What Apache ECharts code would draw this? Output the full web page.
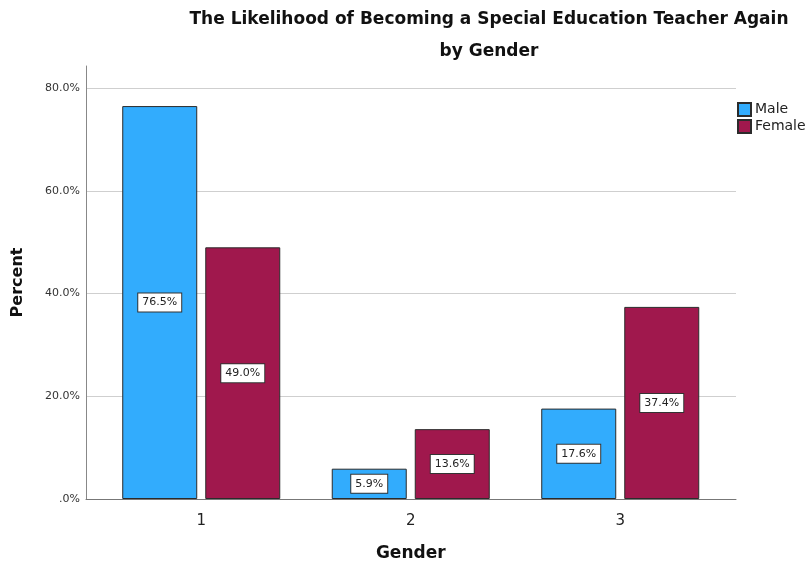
<!DOCTYPE html>
<html>
<head>
<meta charset="utf-8">
<script src="https://cdn.jsdelivr.net/npm/echarts@6/dist/echarts.min.js"></script>
<style>
  html, body { margin: 0; padding: 0; background: #fff; }
  #chart { width: 809px; height: 568px; }
</style>
</head>
<body>
<div id="chart"></div>
<script>
// Response categories and percentage of each gender choosing them
const categories = ['1', '2', '3'];
const maleValues = [76.5, 5.9, 17.6];
const femaleValues = [49.0, 13.6, 37.4];
const yTicks = [0, 20, 40, 60, 80];

const FONT = 'DejaVu Sans';
const Y_MAX = 84.3;

function pctLabel(v) {
  return v === 0 ? '.0%' : v.toFixed(1) + '%';
}

const barLabel = {
  show: true,
  position: 'inside',
  formatter: p => p.value.toFixed(1) + '%',
  color: '#222',
  fontFamily: FONT,
  fontSize: 11,
  backgroundColor: '#fff',
  borderColor: '#333',
  borderWidth: 1,
  padding: [4, 4, 3, 4]
};

const chart = echarts.init(document.getElementById('chart'), null, { renderer: 'canvas' });

chart.setOption({
  animation: false,
  backgroundColor: '#fff',
  title: {
    text: 'The Likelihood of Becoming a Special Education Teacher Again\nby Gender',
    left: 484,
    textAlign: 'center',
    top: -1,
    textStyle: {
      fontFamily: FONT,
      fontWeight: 'bold',
      fontSize: 17,
      lineHeight: 32,
      color: '#111'
    }
  },
  legend: {
    orient: 'vertical',
    left: 732,
    top: 97,
    itemWidth: 13,
    itemHeight: 13,
    itemGap: 2,
    icon: 'rect',
    textStyle: { fontFamily: FONT, fontSize: 14, color: '#222', padding: [0, 0, 0, -1] },
    data: ['Male', 'Female']
  },
  grid: [
    // frame holding the value axis, grid lines and baseline
    { left: 86, right: 73, top: 66, bottom: 69 },
    // band area holding the bar groups
    { left: 96.5, width: 628.5, top: 66, bottom: 69 }
  ],
  xAxis: [
    {
      gridIndex: 0,
      type: 'value',
      min: 0,
      max: 1,
      axisLine: { show: true, onZero: false, lineStyle: { color: '#777', width: 1 } },
      axisTick: { show: false },
      axisLabel: { show: false },
      splitLine: { show: false }
    },
    {
      gridIndex: 1,
      type: 'category',
      data: categories,
      axisLine: { show: false },
      axisTick: { show: false },
      axisLabel: { fontFamily: FONT, fontSize: 15, color: '#222', margin: 15 },
      name: 'Gender',
      nameLocation: 'middle',
      nameGap: 46,
      nameTextStyle: { fontFamily: FONT, fontWeight: 'bold', fontSize: 17, color: '#111' }
    }
  ],
  yAxis: [
    {
      gridIndex: 0,
      type: 'value',
      min: 0,
      max: Y_MAX,
      interval: 20,
      axisLine: { show: true, lineStyle: { color: '#888', width: 1 } },
      axisTick: { show: false },
      axisLabel: {
        fontFamily: FONT,
        fontSize: 11,
        color: '#333',
        margin: 6,
        showMaxLabel: false,
        formatter: v => (yTicks.includes(v) ? pctLabel(v) : '')
      },
      splitLine: {
        show: true,
        showMinLine: false,
        showMaxLine: false,
        lineStyle: { color: '#cfcfcf', width: 1 }
      },
      name: 'Percent',
      nameLocation: 'middle',
      nameGap: 60,
      nameTextStyle: { fontFamily: FONT, fontWeight: 'bold', fontSize: 16, color: '#111' }
    },
    {
      gridIndex: 1,
      type: 'value',
      min: 0,
      max: Y_MAX,
      show: false
    }
  ],
  series: [
    {
      name: 'Male',
      type: 'bar',
      xAxisIndex: 1,
      yAxisIndex: 1,
      data: maleValues,
      barWidth: 75,
      barGap: '10.7%',
      itemStyle: { color: '#32acfd', borderColor: '#2b2b2b', borderWidth: 1 },
      label: barLabel
    },
    {
      name: 'Female',
      type: 'bar',
      xAxisIndex: 1,
      yAxisIndex: 1,
      data: femaleValues,
      barWidth: 75,
      barGap: '10.7%',
      itemStyle: { color: '#a0184d', borderColor: '#2b2b2b', borderWidth: 1 },
      label: barLabel
    }
  ]
});
</script>
</body>
</html>
